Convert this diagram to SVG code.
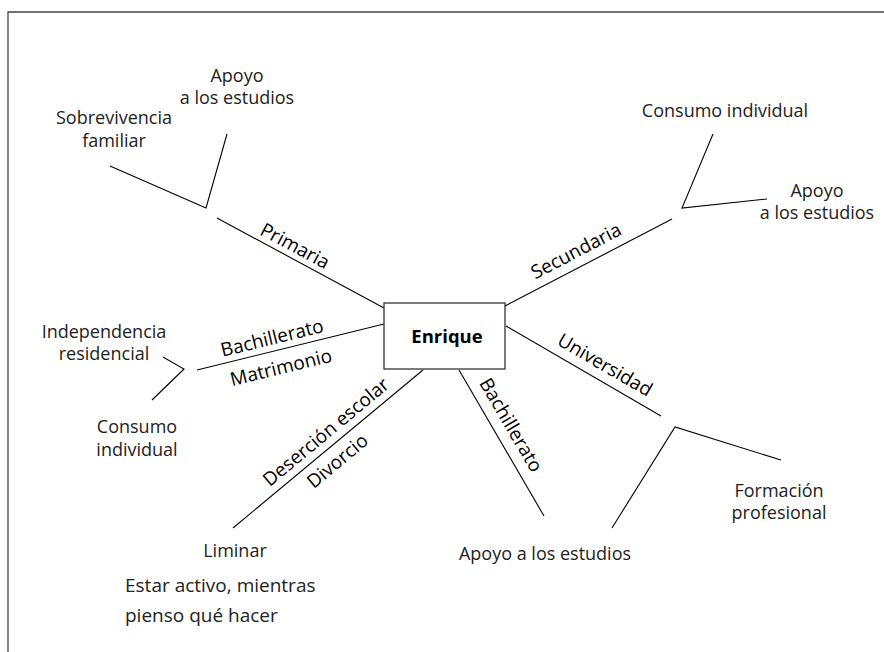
<svg xmlns="http://www.w3.org/2000/svg" width="884" height="652" viewBox="0 0 884 652">
<style>
.t{font-family:"Open Sans","Liberation Sans",sans-serif;font-size:18px;fill:#222;font-weight:400;text-anchor:middle}
.l{font-family:"Open Sans","Liberation Sans",sans-serif;font-size:19px;fill:#000;font-weight:500;text-anchor:middle}
.c line,.c polyline{stroke:#000;stroke-width:1.1;fill:none}
.frame{stroke:#444;stroke-width:1.3;fill:none}
</style>
<rect width="884" height="652" fill="#fff"/>
<polyline class="frame" points="8,652 8,12 884,12"/>
<g id="connectors" class="c">
<line x1="384" y1="308" x2="217" y2="218"/>
<line x1="505" y1="306" x2="672" y2="219"/>
<line x1="384" y1="324" x2="197" y2="370"/>
<line x1="423" y1="370" x2="233" y2="528"/>
<line x1="459" y1="370" x2="544" y2="516"/>
<line x1="506" y1="326" x2="661" y2="416"/>
<polyline points="110,166 206,208 227,134"/>
<polyline points="713,134 682,208 767,199"/>
<polyline points="163,357 184,369 152,400"/>
<polyline points="612,528 675,427 781,460"/>
</g>
<g id="labels">
<text class="l" transform="translate(295,246) rotate(28.3)" y="6.5">Primaria</text>
<text class="l" transform="translate(576,251) rotate(-27.5)" y="6.5">Secundaria</text>
<text class="l" transform="translate(605,365) rotate(30.1)" y="6.5">Universidad</text>
<text class="l" transform="translate(272,338) rotate(-13.8)" y="6.5">Bachillerato</text>
<text class="l" transform="translate(281,367.5) rotate(-13.8)" y="6.5">Matrimonio</text>
<text class="l" transform="translate(326,432) rotate(-39.8)" y="6.5">Deserción escolar</text>
<text class="l" transform="translate(337.5,461) rotate(-39.8)" y="6.5">Divorcio</text>
<text class="l" transform="translate(511,425) rotate(59.7)" y="6.5">Bachillerato</text>
</g>
<g id="enrique">
<rect x="384" y="303" width="121" height="66" fill="#fff" stroke="#333" stroke-width="1.3"/>
<text class="l" x="447" y="343" style="font-weight:700;font-size:18.5px">Enrique</text>
</g>
<g id="sobrevivencia"><text class="t"><tspan x="114" y="124">Sobrevivencia</tspan><tspan x="114" y="147">familiar</tspan></text></g>
<g id="apoyo1"><text class="t"><tspan x="237" y="82">Apoyo</tspan><tspan x="237" y="104">a los estudios</tspan></text></g>
<g id="consumo1"><text class="t" x="725" y="117">Consumo individual</text></g>
<g id="apoyo2"><text class="t"><tspan x="817" y="196.5">Apoyo</tspan><tspan x="817" y="218.5">a los estudios</tspan></text></g>
<g id="independencia"><text class="t"><tspan x="104" y="338">Independencia</tspan><tspan x="104" y="360">residencial</tspan></text></g>
<g id="consumo2"><text class="t"><tspan x="137" y="433">Consumo</tspan><tspan x="137" y="456">individual</tspan></text></g>
<g id="liminar"><text class="t" x="235" y="557">Liminar</text></g>
<g id="estar"><text class="t" style="text-anchor:start;font-size:19px"><tspan x="125" y="592">Estar activo, mientras</tspan><tspan x="125" y="622">pienso qué hacer</tspan></text></g>
<g id="apoyo3"><text class="t" x="545" y="560">Apoyo a los estudios</text></g>
<g id="formacion"><text class="t"><tspan x="779" y="497">Formación</tspan><tspan x="779" y="519">profesional</tspan></text></g>
</svg>
